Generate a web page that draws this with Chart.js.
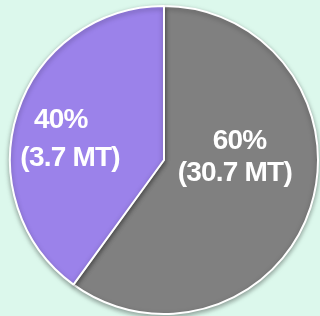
<!DOCTYPE html>
<html>
<head>
<meta charset="utf-8">
<script src="https://cdn.jsdelivr.net/npm/chart.js@4"></script>
<style>
  html, body { margin:0; padding:0; background:#dcf8ec; }
  #wrap { width:320px; height:316px; }
</style>
</head>
<body>
<div id="wrap"><canvas id="pie" width="320" height="316"></canvas></div>
<script>
// ─── data ───────────────────────────────────────────────────────────────────
const categories = ['Gray', 'Purple'];
const shares     = [60, 40];
const tonnes     = ['30.7 MT', '3.7 MT'];
const COLORS     = ['#808080', '#9b82ea'];

// ── shadow under the pie ────────────────────────────────────────────────────
const shadowPlugin = {
  id: 'pieShadow',
  beforeDatasetsDraw(chart) {
    const ctx = chart.ctx;
    ctx.save();
    ctx.shadowColor = 'rgba(0,0,0,0.35)';
    ctx.shadowBlur = 5;
    ctx.shadowOffsetY = 2;
  },
  afterDatasetsDraw(chart) { chart.ctx.restore(); }
};

// ── labels inside slices ────────────────────────────────────────────────────
// offsets (fraction of radius) for the two lines of each label
const LABEL_POS = [
  [[0.49, -0.12], [0.46, 0.085]],
  [[-0.67, -0.26], [-0.61, -0.01]]
];
const labelPlugin = {
  id: 'sliceLabels',
  afterDatasetsDraw(chart) {
    const ctx = chart.ctx;
    const meta = chart.getDatasetMeta(0);
    ctx.save();
    ctx.fillStyle = '#fff';
    ctx.textAlign = 'center';
    ctx.textBaseline = 'middle';
    ctx.font = 'bold 28px "Liberation Sans", Arial, sans-serif';
    ctx.letterSpacing = '-0.8px';
    meta.data.forEach((arc, i) => {
      const r = arc.outerRadius;
      const p = LABEL_POS[i];
      ctx.fillText(shares[i] + '%', arc.x + p[0][0] * r, arc.y + p[0][1] * r);
      ctx.fillText('(' + tonnes[i] + ')', arc.x + p[1][0] * r, arc.y + p[1][1] * r);
    });
    ctx.restore();
  }
};

new Chart(document.getElementById('pie'), {
  type: 'pie',
  data: {
    labels: categories,
    datasets: [{ data: shares, backgroundColor: COLORS, borderColor: '#fff', borderWidth: 2 }]
  },
  options: {
    responsive: false,
    animation: false,
    layout: { padding: { left: 9, right: 1, top: 5, bottom: 1 } },
    plugins: { legend: { display: false }, tooltip: { enabled: false } }
  },
  plugins: [shadowPlugin, labelPlugin]
});
</script>
</body>
</html>
